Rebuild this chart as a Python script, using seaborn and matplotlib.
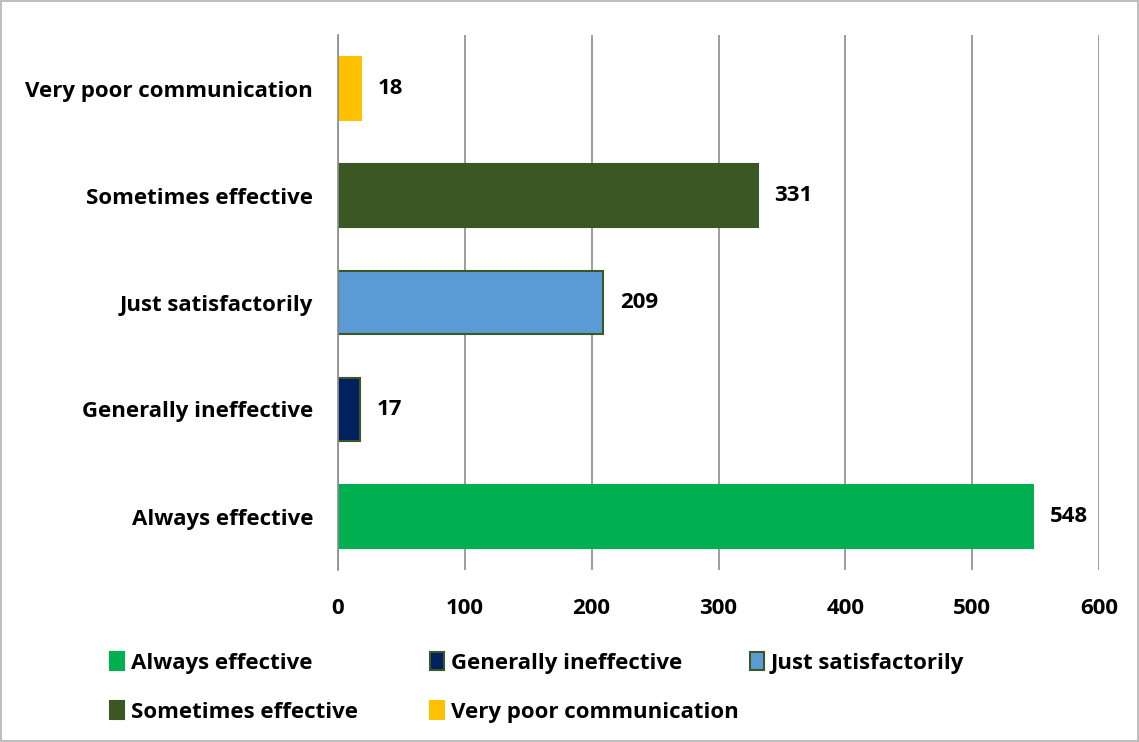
import matplotlib
matplotlib.use("Agg")
import matplotlib.pyplot as plt
import seaborn as sns
import pandas as pd
from matplotlib.patches import Patch

categories = ["Very poor communication", "Sometimes effective", "Just satisfactorily",
              "Generally ineffective", "Always effective"]
values = [18, 331, 209, 17, 548]
colors = ["#FFC000", "#3A5724", "#5B9BD5", "#002060", "#00B050"]
edges = ["#FFC000", "#3A5724", "#3A5724", "#3A5724", "#00B050"]
xticks = [0, 100, 200, 300, 400, 500, 600]
legend_columns = [["Always effective", "Sometimes effective"],
                  ["Generally ineffective", "Very poor communication"],
                  ["Just satisfactorily"]]

sns.set_style("white")
plt.rcParams['font.family'] = ['Open Sans', 'DejaVu Sans']
plt.rcParams['text.color'] = 'black'
plt.rcParams['xtick.color'] = 'black'
plt.rcParams['ytick.color'] = 'black'
FS = 16

df = pd.DataFrame({"category": categories, "value": values})

fig = plt.figure(figsize=(11.39, 7.42), dpi=100)
fig.patch.set_edgecolor("#BFBFBF")
fig.patch.set_linewidth(1.5)
ax = fig.add_axes([338/1139, 1-570/742, (1099-338)/1139, (570-35)/742])

sns.barplot(data=df, y="category", x="value", hue="category", palette=colors,
            order=categories, hue_order=categories, dodge=False, legend=False,
            width=0.58, ax=ax, saturation=1)
for patch, ec in zip(ax.patches, edges):
    patch.set_edgecolor(ec)
    patch.set_linewidth(1.5)

for cont in ax.containers:
    ax.bar_label(cont, padding=12, fontsize=FS, fontweight="bold", color="black")

ax.set_xlim(0, 600)
ax.set_xticks(xticks)
ax.set_xticklabels([str(t) for t in xticks], fontsize=FS, fontweight="bold")
ax.tick_params(axis="x", length=0, pad=20, labelcolor="black")
ax.tick_params(axis="y", length=0, pad=18, labelcolor="black")
for lbl in ax.get_yticklabels():
    lbl.set_fontsize(FS)
    lbl.set_fontweight("bold")
ax.set_xlabel("")
ax.set_ylabel("")
ax.xaxis.grid(True, color="#8C8C8C", linewidth=1.2)
ax.set_axisbelow(True)
for s in ["top", "right", "bottom"]:
    ax.spines[s].set_visible(False)
ax.spines["left"].set_color("#8C8C8C")
ax.spines["left"].set_linewidth(1.2)

cmap = dict(zip(categories, colors))
emap = dict(zip(categories, edges))
col_x = [110, 430, 750]
for cx, col in zip(col_x, legend_columns):
    handles = [Patch(facecolor=cmap[c], edgecolor=emap[c], linewidth=1.5, label=c) for c in col]
    leg = fig.legend(handles=handles, ncol=1, loc="upper left",
                     bbox_to_anchor=(cx/1139, 1-652/742), borderpad=0, borderaxespad=0,
                     frameon=False, prop={"size": FS, "weight": "bold"},
                     handlelength=0.65, handleheight=0.85, handletextpad=0.3,
                     labelspacing=1.25)
    for t in leg.get_texts():
        t.set_color("black")

fig.savefig("out.png", dpi=100)
